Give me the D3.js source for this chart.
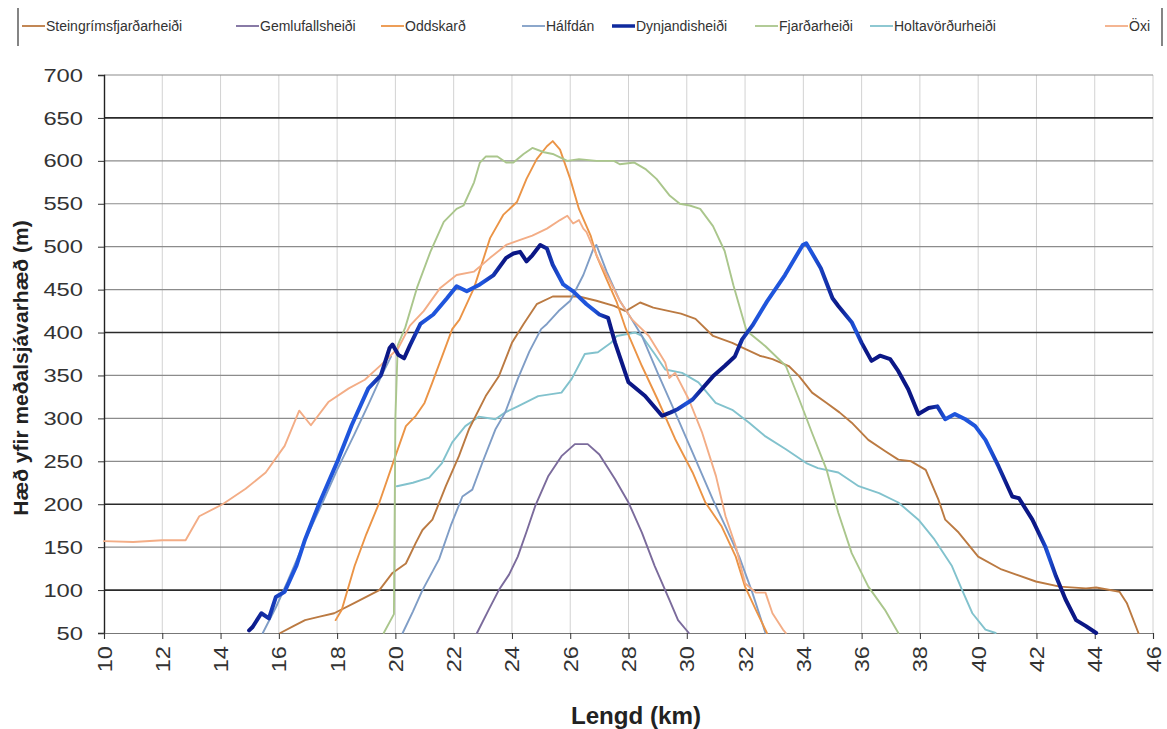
<!DOCTYPE html>
<html>
<head>
<meta charset="utf-8">
<script src="https://cdn.jsdelivr.net/npm/d3@7"></script>
<style>
  html, body { margin: 0; padding: 0; background: #fff; }
  svg { display: block; font-family: "Liberation Sans", Arial, sans-serif; }
</style>
</head>
<body>
<svg id="chart" width="1167" height="729"></svg>
<script>
// ---------------- data (km, m) ----------------
const seriesNames = ["Steingrímsfjarðarheiði","Gemlufallsheiði","Oddskarð","Hálfdán","Dynjandisheiði","Fjarðarheiði","Holtavörðurheiði","Öxi"];

const steingrimsfjardarheidi = [[16.05,50],[16.5,58],[16.9,65],[17.4,69],[17.9,73],[18.6,85],[19.45,100],[19.9,120],[20.36,131],[20.7,155],[20.93,170],[21.27,182],[21.73,221],[22.18,256],[22.52,287],[23.1,326],[23.55,349],[24.0,388],[24.4,410],[24.85,433],[25.4,442],[25.9,442],[26.3,442],[26.9,437],[27.5,431],[27.9,425],[28.4,435],[28.85,429],[29.4,425],[29.8,422],[30.3,416],[30.9,396],[31.56,388],[32.0,381],[32.5,373],[32.94,369],[33.5,361],[33.86,349],[34.3,330],[34.8,318],[35.24,307],[35.66,295],[36.23,275],[36.8,262],[37.26,252],[37.7,250],[38.2,240],[38.64,205],[38.87,182],[39.33,167],[40.0,139],[40.8,124],[41.98,110],[42.8,104],[43.7,102],[44.05,103],[44.85,98],[45.1,85],[45.5,50]];

const gemlufallsheidi = [[22.8,50],[23.2,77],[23.55,100],[23.9,118],[24.2,139],[24.5,168],[24.8,198],[25.25,233],[25.7,256],[26.16,270],[26.6,270],[27.0,258],[27.54,229],[28.0,202],[28.46,167],[28.9,128],[29.4,89],[29.7,65],[30.07,50]];

const oddskard = [[17.95,65],[18.16,77],[18.6,128],[19.0,165],[19.45,202],[20.0,256],[20.36,291],[20.7,303],[21.0,318],[21.27,342],[21.6,372],[21.95,404],[22.2,415],[22.7,452],[23.25,510],[23.7,537],[24.17,552],[24.5,579],[24.85,602],[25.2,617],[25.4,623],[25.65,613],[26.0,579],[26.3,544],[26.7,513],[26.9,490],[27.25,462],[27.6,435],[27.9,405],[28.46,361],[29.0,322],[29.6,276],[30.2,237],[30.64,202],[31.2,174],[31.68,139],[32.0,104],[32.37,77],[32.75,50]];

const halfdan = [[15.45,50],[15.9,80],[16.3,110],[16.9,158],[17.5,202],[18.0,240],[18.6,282],[19.1,318],[19.5,348],[19.85,372], null,
  [20.25,50],[20.6,75],[20.93,100],[21.5,136],[21.9,175],[22.3,209],[22.64,217],[22.98,248],[23.43,287],[23.77,307],[24.2,346],[24.6,378],[25.0,404],[25.2,410],[25.6,425],[26.0,437],[26.45,467],[26.8,498],[26.9,502],[27.25,471],[27.7,437],[28.1,416],[28.46,396],[29.0,353],[29.6,307],[30.2,260],[30.9,205],[31.33,174],[31.8,139],[32.25,97],[32.7,50]];

const dynjandisheidi = [[14.98,53],[15.1,57],[15.4,73],[15.66,67],[15.9,92],[16.2,98],[16.6,128],[16.9,159],[17.4,202],[18.0,249],[18.5,292],[19.07,335],[19.5,350],[19.8,382],[19.9,386],[20.1,374],[20.3,370],[20.5,385],[20.86,410],[21.3,421],[21.77,440],[22.1,454],[22.45,448],[22.9,456],[23.37,467],[23.8,487],[24.05,492],[24.28,494],[24.5,483],[24.7,490],[24.97,502],[25.2,498],[25.4,479],[25.76,456],[26.1,448],[26.56,433],[27.0,421],[27.3,417],[27.54,388],[28.0,342],[28.57,326],[29.15,303],[29.45,307],[29.7,311],[30.2,322],[30.9,349],[31.3,361],[31.65,372],[31.9,392],[32.25,408],[32.75,436],[33.37,467],[33.98,502],[34.1,504],[34.6,475],[35.0,440],[35.2,431],[35.66,412],[36.0,388],[36.34,367],[36.63,373],[36.98,369],[37.26,355],[37.6,334],[37.95,305],[38.3,312],[38.6,314],[38.87,299],[39.2,305],[39.56,299],[39.9,291],[40.25,275],[40.7,244],[41.17,209],[41.4,207],[41.86,182],[42.3,151],[42.67,116],[43.0,89],[43.36,65],[43.7,58],[44.05,50]];

const fjardarheidi = [[19.6,50],[19.95,72],[20.0,300],[20.08,385],[20.34,406],[20.74,452],[21.2,494],[21.66,529],[22.1,544],[22.34,548],[22.7,575],[22.9,598],[23.1,605],[23.5,605],[23.8,598],[24.05,598],[24.4,608],[24.7,615],[25.1,610],[25.4,608],[25.9,600],[26.3,602],[26.9,600],[27.5,600],[27.7,596],[28.2,598],[28.6,590],[28.96,579],[29.4,560],[29.76,550],[30.1,548],[30.46,544],[30.9,524],[31.3,495],[31.6,455],[32.05,402],[32.7,384],[33.4,361],[33.86,322],[34.3,283],[34.8,240],[35.2,190],[35.66,143],[36.23,104],[36.8,77],[37.26,50]];

const holtavordurheidi = [[20.05,221],[20.6,225],[21.16,231],[21.6,248],[21.95,272],[22.4,291],[22.86,302],[23.43,299],[23.77,307],[24.2,314],[24.9,326],[25.7,330],[26.05,346],[26.5,375],[26.95,377],[27.4,388],[27.6,396],[28.23,400],[28.46,396],[28.9,375],[29.26,357],[29.84,353],[30.4,342],[30.99,318],[31.56,310],[32.14,295],[32.7,279],[33.4,264],[34.1,248],[34.5,242],[35.2,237],[35.9,221],[36.6,213],[37.26,202],[37.95,182],[38.5,159],[39.1,128],[39.45,100],[39.8,73],[40.25,54],[40.6,50]];

const oxi = [[10,157],[11,156],[12,158],[12.8,158],[13.27,186],[14.07,200],[14.86,218],[15.55,237],[16.2,268],[16.7,309],[17.1,292],[17.7,319],[18.4,335],[18.95,345],[19.5,362],[20.1,382],[20.5,408],[20.97,425],[21.54,452],[22.1,467],[22.7,471],[23.25,487],[23.8,502],[24.28,508],[24.7,513],[25.2,521],[25.65,531],[25.9,536],[26.1,527],[26.3,531],[26.45,521],[26.56,517],[26.8,498],[27.0,483],[27.36,460],[27.7,437],[28.1,416],[28.7,396],[29.26,365],[29.4,347],[29.6,353],[30.07,322],[30.53,283],[31.0,233],[31.33,186],[31.68,151],[32.0,108],[32.37,97],[32.7,97],[32.94,73],[33.3,54],[33.4,50]];

const xTicks = [10,12,14,16,18,20,22,24,26,28,30,32,34,36,38,40,42,44,46];
const yTicks = [50,100,150,200,250,300,350,400,450,500,550,600,650,700];
const darkGrid = [100,200,400,650];

// ---------------- styling ----------------
const seriesData = [steingrimsfjardarheidi, gemlufallsheidi, oddskard, halfdan, dynjandisheidi, fjardarheidi, holtavordurheidi, oxi];
const colors = ["#bb7a42","#7b6b9c","#eb9446","#7f9dc6","url(#dynGrad)","#aac68c","#82c2cd","#f3ad86"];
const widths = [1.9,1.9,1.9,1.9,4,1.9,1.9,1.9];
const legendX = [22,236,381,522,612,755,870,1105];

const svg = d3.select("#chart");
const x = d3.scaleLinear().domain([10,46]).range([104,1153]);
const y = d3.scaleLinear().domain([50,700]).range([633,75]);

// gradient for thick blue line
const defs = svg.append("defs");
const grad = defs.append("linearGradient").attr("id","dynGrad")
  .attr("gradientUnits","userSpaceOnUse").attr("x1",x(14)).attr("x2",x(45)).attr("y1",0).attr("y2",0);
const dark = "#0b1786", bright = "#1f55dc";
const gradStops = [[15,dark],[16.4,bright],[19,bright],[19.7,dark],[20.4,dark],[21,bright],[23,bright],[23.7,dark],[25,dark],[25.7,bright],[26.8,bright],[27.4,dark],[29.3,dark],[30,bright],[30.6,dark],[31.6,dark],[32.4,bright],[34.3,bright],[35.2,dark],[35.8,bright],[36.1,dark],[38.3,dark],[38.9,bright],[40.4,bright],[41,dark],[42,dark],[42.4,bright],[42.8,dark],[44,dark]];
gradStops.forEach(s => grad.append("stop").attr("offset", (s[0]-14)/(45-14)).attr("stop-color", s[1]));

// vertical grid
svg.append("g").selectAll("line").data(xTicks.filter(d => d > 10)).join("line")
  .attr("x1", d => x(d)).attr("x2", d => x(d)).attr("y1", y(700)).attr("y2", y(50))
  .attr("stroke", "#d2d2d2").attr("stroke-width", 1);

// horizontal grid
svg.append("g").selectAll("line").data(yTicks.filter(d => d > 50)).join("line")
  .attr("x1", x(10)).attr("x2", x(46)).attr("y1", d => y(d)).attr("y2", d => y(d))
  .attr("stroke", d => darkGrid.includes(d) ? "#2a2a2a" : "#8c8c8c")
  .attr("stroke-width", d => darkGrid.includes(d) ? 1.6 : 1.2);

// axes
const yAxis = svg.append("g").attr("transform", `translate(${x(10)},0)`)
  .call(d3.axisLeft(y).tickValues(yTicks).tickSize(6).tickFormat(d3.format("d")));
yAxis.select(".domain").attr("stroke", "#222").attr("stroke-width", 1.4);
yAxis.selectAll(".tick line").attr("stroke", "#333");
yAxis.selectAll(".tick text").attr("font-size", 19).attr("fill", "#333")
  .attr("font-family", "Liberation Sans, Arial, sans-serif")
  .attr("transform", "scale(1.25,1)").attr("x", -21 / 1.25);

const xAxis = svg.append("g").attr("transform", `translate(0,${y(50)})`)
  .call(d3.axisBottom(x).tickValues(xTicks).tickSize(6).tickFormat(d3.format("d")));
xAxis.select(".domain").attr("stroke", "#777").attr("stroke-width", 1.2);
xAxis.selectAll(".tick line").attr("stroke", "#333");
xAxis.selectAll(".tick text").attr("font-size", 20).attr("fill", "#333")
  .attr("font-family", "Liberation Sans, Arial, sans-serif")
  .attr("transform", "rotate(-90) scale(1.18,1)").attr("text-anchor", "end")
  .attr("x", -13 / 1.18).attr("y", 0).attr("dy", "0.35em");

// lines
const line = d3.line().defined(d => d !== null).x(d => x(d[0])).y(d => y(d[1])).curve(d3.curveLinear);
const order = [6,0,1,3,2,5,7,4];
svg.append("g").selectAll("path").data(order).join("path")
  .attr("d", i => line(seriesData[i]))
  .attr("fill", "none")
  .attr("stroke", i => colors[i])
  .attr("stroke-width", i => widths[i])
  .attr("stroke-linejoin", "round").attr("stroke-linecap", "round");

// axis titles
svg.append("text").attr("transform", `translate(28,368) rotate(-90)`)
  .attr("text-anchor", "middle").attr("font-size", 21).attr("font-weight", "bold").attr("fill", "#222")
  .text("Hæð yfir meðalsjávarhæð (m)");
svg.append("text").attr("transform", `translate(636,724) scale(1.05,1)`)
  .attr("text-anchor", "middle").attr("font-size", 23).attr("font-weight", "bold").attr("fill", "#222")
  .text("Lengd (km)");

// legend
const leg = svg.append("g");
leg.append("line").attr("x1", 18).attr("x2", 18).attr("y1", 8).attr("y2", 46).attr("stroke", "#333").attr("stroke-width", 1.2);
leg.append("line").attr("x1", 1162).attr("x2", 1162).attr("y1", 8).attr("y2", 46).attr("stroke", "#333").attr("stroke-width", 1.2);
const legColors = ["#bb7a42","#7b6b9c","#eb9446","#7f9dc6","#0f2a9e","#aac68c","#82c2cd","#f3ad86"];
seriesNames.forEach((name, i) => {
  const g = leg.append("g").attr("transform", `translate(${legendX[i]},26)`);
  g.append("line").attr("x1", 0).attr("x2", 23).attr("y1", 0).attr("y2", 0)
    .attr("stroke", legColors[i]).attr("stroke-width", i === 4 ? 3.5 : 1.8);
  g.append("text").attr("x", 24).attr("y", 0).attr("dy", "0.35em")
    .attr("font-size", 14).attr("fill", "#333").text(name);
});
</script>
</body>
</html>
